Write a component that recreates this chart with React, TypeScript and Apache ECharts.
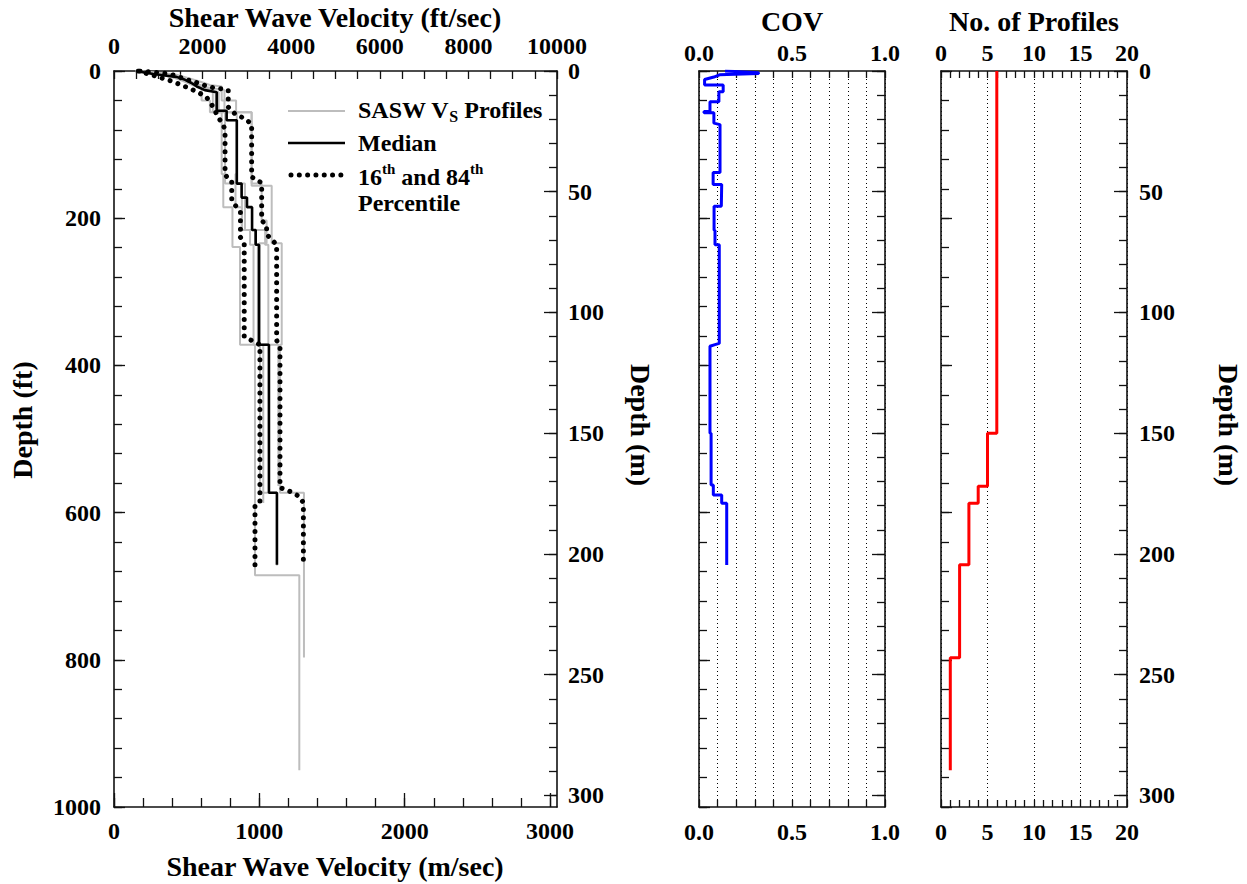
import React, { useEffect, useRef } from "react";
import * as echarts from "echarts";

// ---------------- Data ----------------
// Left panel points: [shear wave velocity (m/sec), depth (ft)]
const saswProfile1 = [[150,0],[230,2],[330,5],[420,9],[500,14],[560,18],[603,21],[603,40],[660,40],[660,56],[741,56],[741,140],[752,140],[752,185],[815,185],[815,239],[867,239],[867,372],[970,372],[970,685],[1275,685],[1275,950]];
const saswProfile2 = [[160,0],[290,2],[430,5],[520,10],[600,15],[660,19],[741,21],[741,40],[840,40],[840,56],[947,56],[947,156],[1085,156],[1085,234],[1154,234],[1154,372],[1142,372],[1142,573],[1307,573],[1307,797]];
const saswProfile3 = [[145,0],[220,2],[320,5],[410,9],[480,14],[540,19],[580,22],[700,29],[700,54],[775,54],[775,67],[845,67],[845,140],[836,140],[836,185],[880,185],[880,216],[936,216],[936,236],[960,236],[960,372],[1004,372],[1004,573],[1121,573],[1121,672]];
const saswProfile4 = [[150,0],[250,3],[380,7],[470,12],[540,16],[600,22],[680,24],[680,56],[845,56],[845,153],[901,153],[901,216],[1040,216],[1040,236],[1062,236],[1062,372],[1027,372],[1027,587]];
const saswProfile5 = [[155,0],[260,3],[390,7],[480,12],[550,16],[640,22],[760,26],[760,56],[947,56],[947,153],[1016,153],[1016,203],[1050,203],[1050,234],[1000,234],[1000,372],[1131,372],[1131,564]];
const saswProfile6 = [[150,0],[240,2],[350,6],[440,10],[510,15],[570,21],[640,25],[720,29],[720,54],[764,54],[764,153],[880,153],[880,216],[970,216],[970,236],[990,236],[990,372],[1066,372],[1066,492]];

const medianProfile = [[150,0],[210,2],[270,4],[350,6],[430,8],[490,12],[530,16],[570,21],[625,26],[707,29],[707,54],[775,54],[775,67],[845,67],[845,153],[878,153],[878,172],[915,172],[915,185],[950,185],[950,216],[975,216],[975,236],[998,236],[998,372],[1066,372],[1066,573],[1121,573],[1121,671]];
const percentile16 = [[167,0],[270,6],[400,14],[500,22],[580,29],[638,36],[683,49],[717,63],[741,70],[764,79],[764,140],[786,147],[810,150],[810,176],[844,185],[870,192],[870,226],[896,234],[896,361],[1004,372],[1004,586],[970,590],[970,671]];
const percentile84 = [[179,0],[300,2],[385,4],[488,11],[557,15],[660,22],[729,24],[786,26],[786,49],[832,58],[901,65],[947,72],[947,144],[1016,152],[1016,203],[1050,210],[1050,222],[1119,236],[1119,366],[1142,375],[1142,566],[1233,573],[1280,579],[1303,587],[1303,671]];

// COV vs depth: [COV, depth (m)]
const covProfile = [[0.14,0],[0.32,0.7],[0.32,1.0],[0.11,1.6],[0.08,2.5],[0.03,3.5],[0.03,5.8],[0.13,5.8],[0.13,8.6],[0.107,8.6],[0.107,12.7],[0.059,12.7],[0.059,16.8],[0.027,16.8],[0.027,17.3],[0.08,17.3],[0.08,21.6],[0.113,22.2],[0.113,42],[0.076,42],[0.076,47],[0.122,47],[0.12,56],[0.081,56],[0.081,66],[0.086,66],[0.086,72],[0.109,72],[0.109,112.8],[0.086,113.3],[0.059,114],[0.059,150],[0.065,150],[0.065,171.4],[0.077,171.4],[0.077,175.6],[0.122,175.6],[0.122,179],[0.149,179],[0.149,204.6]];

// Number of profiles vs depth: [count, depth (m)]
const profileCount = [[6,0],[6,150],[5,150],[5,172],[4,172],[4,179],[3,179],[3,204.5],[2,204.5],[2,243],[1,243],[1,289.6]];

// Tick labels
const velMsLabels = [0, 1000, 2000, 3000];
const velFtLabels = [0, 2000, 4000, 6000, 8000, 10000];
const depthFtLabels = [0, 200, 400, 600, 800, 1000];
const depthMLabels = [0, 50, 100, 150, 200, 250, 300];
const covLabels = [0, 0.5, 1];
const countLabels = [0, 5, 10, 15, 20];

// ---------------- Helpers ----------------
const FONT = "'Liberation Serif', 'Times New Roman', serif";
const AX = "#111";
const TICK_FONT = 24;
const TITLE_FONT = 28;
const LEGEND_FONT = 24;
const TOP_MARGIN = 6;

function steps(min: number, max: number, step: number) {
  const out: number[] = [];
  const n = Math.round((max - min) / step);
  for (let i = 0; i <= n; i++) out.push(Math.round((min + i * step) * 1e6) / 1e6);
  return out;
}

let measureCtx: CanvasRenderingContext2D | null = null;
function textWidth(text: string, size: number) {
  if (!measureCtx) measureCtx = document.createElement("canvas").getContext("2d");
  if (!measureCtx) return text.length * size * 0.5;
  measureCtx.font = `bold ${size}px ${FONT}`;
  return measureCtx.measureText(text).width;
}

type AxOpt = {
  grid: number; pos: string; min: number; max: number; inverse?: boolean;
  line?: boolean; ticks?: number[]; tickLen?: number; labels?: number[];
  fmt?: (v: number) => string; margin?: number; split?: number; splitDash?: number[];
};

function mkAxis(o: AxOpt) {
  const a: any = {
    type: "value",
    gridIndex: o.grid,
    position: o.pos,
    min: o.min,
    max: o.max,
    inverse: !!o.inverse,
    axisLine: { show: !!o.line, onZero: false, lineStyle: { color: AX, width: 1.6 } },
    axisTick: o.ticks
      ? { show: true, inside: true, length: o.tickLen || 8, customValues: o.ticks, lineStyle: { color: AX, width: 1.3 } }
      : { show: false },
    axisLabel: o.labels
      ? {
          show: true, customValues: o.labels, formatter: o.fmt || ((v: number) => String(v)),
          margin: o.margin ?? 12, color: "#000", fontFamily: FONT, fontWeight: "bold", fontSize: TICK_FONT,
          showMinLabel: true, showMaxLabel: true,
        }
      : { show: false },
    splitLine: { show: false },
  };
  if (o.split) {
    a.interval = o.split;
    a.splitLine = { show: true, lineStyle: { color: "#000", width: 1, type: o.splitDash || [1, 3] } };
  }
  return a;
}

export default function App() {
  const ref = useRef<HTMLDivElement>(null);

  useEffect(() => {
    if (!ref.current) return;
    const chart = echarts.init(ref.current, undefined, { renderer: "svg" });

    const g0 = { left: 114, top: 71, width: 443, height: 736 };
    const g1 = { left: 699, top: 71, width: 186, height: 736 };
    const g2 = { left: 941, top: 71, width: 186, height: 736 };

    const FT_MAX = 1000;
    const M_MAX = 304.8;
    const MS_MAX = 3048;

    const xAxis = [
      // grid 0
      mkAxis({ grid: 0, pos: "bottom", min: 0, max: MS_MAX, line: true, ticks: velMsLabels, tickLen: 14, labels: velMsLabels, margin: 12 }), // 0
      mkAxis({ grid: 0, pos: "bottom", min: 0, max: MS_MAX, ticks: steps(0, 3000, 200), tickLen: 9 }), // 1
      mkAxis({ grid: 0, pos: "top", min: 0, max: 10000, line: true, ticks: steps(0, 10000, 500), tickLen: 8, labels: velFtLabels, margin: 13 }), // 2
      // grid 1
      mkAxis({ grid: 1, pos: "bottom", min: 0, max: 1, line: true, ticks: steps(0, 1, 0.1), tickLen: 7, labels: covLabels, fmt: (v) => v.toFixed(1), margin: 13 }), // 3
      mkAxis({ grid: 1, pos: "top", min: 0, max: 1, line: true, ticks: steps(0, 1, 0.1), tickLen: 7, labels: covLabels, fmt: (v) => v.toFixed(1), margin: TOP_MARGIN }), // 4
      mkAxis({ grid: 1, pos: "bottom", min: 0, max: 1, split: 0.1 }), // 5
      // grid 2
      mkAxis({ grid: 2, pos: "bottom", min: 0, max: 20, line: true, ticks: steps(0, 20, 1), tickLen: 7, labels: countLabels, margin: 13 }), // 6
      mkAxis({ grid: 2, pos: "top", min: 0, max: 20, line: true, ticks: steps(0, 20, 1), tickLen: 7, labels: countLabels, margin: TOP_MARGIN }), // 7
      mkAxis({ grid: 2, pos: "bottom", min: 0, max: 20, split: 5 }), // 8
    ];

    const yAxis = [
      // grid 0
      mkAxis({ grid: 0, pos: "left", min: 0, max: FT_MAX, inverse: true, line: true, ticks: depthFtLabels, tickLen: 11, labels: depthFtLabels, margin: 13 }), // 0
      mkAxis({ grid: 0, pos: "left", min: 0, max: FT_MAX, inverse: true, ticks: steps(0, 1000, 40), tickLen: 8 }), // 1
      mkAxis({ grid: 0, pos: "right", min: 0, max: M_MAX, inverse: true, line: true, ticks: depthMLabels, tickLen: 13, labels: depthMLabels, margin: 11 }), // 2
      mkAxis({ grid: 0, pos: "right", min: 0, max: M_MAX, inverse: true, ticks: steps(0, 300, 10), tickLen: 8 }), // 3
      // grid 1
      mkAxis({ grid: 1, pos: "left", min: 0, max: FT_MAX, inverse: true, line: true, ticks: depthFtLabels, tickLen: 11 }), // 4
      mkAxis({ grid: 1, pos: "left", min: 0, max: FT_MAX, inverse: true, ticks: steps(0, 1000, 40), tickLen: 8 }), // 5
      mkAxis({ grid: 1, pos: "right", min: 0, max: M_MAX, inverse: true, line: true, ticks: depthMLabels, tickLen: 13 }), // 6
      mkAxis({ grid: 1, pos: "right", min: 0, max: M_MAX, inverse: true, ticks: steps(0, 300, 10), tickLen: 8 }), // 7
      // grid 2
      mkAxis({ grid: 2, pos: "left", min: 0, max: FT_MAX, inverse: true, line: true, ticks: depthFtLabels, tickLen: 11 }), // 8
      mkAxis({ grid: 2, pos: "left", min: 0, max: FT_MAX, inverse: true, ticks: steps(0, 1000, 40), tickLen: 8 }), // 9
      mkAxis({ grid: 2, pos: "right", min: 0, max: M_MAX, inverse: true, line: true, ticks: depthMLabels, tickLen: 13, labels: depthMLabels, margin: 12 }), // 10
      mkAxis({ grid: 2, pos: "right", min: 0, max: M_MAX, inverse: true, ticks: steps(0, 300, 10), tickLen: 8 }), // 11
    ];

    const line = (name: string, data: number[][], xi: number, yi: number, ls: any, z = 2) => ({
      name, type: "line", data, xAxisIndex: xi, yAxisIndex: yi, showSymbol: false, symbol: "none",
      lineStyle: ls, z, silent: true, clip: true,
    });

    const gray = { color: "#bdbdbd", width: 2 };
    const dotted = { color: "#000", width: 5, type: [0.01, 8.3], cap: "round" };

    const series = [
      line("p1", saswProfile1, 0, 0, gray, 2),
      line("p2", saswProfile2, 0, 0, gray, 2),
      line("p3", saswProfile3, 0, 0, gray, 2),
      line("p4", saswProfile4, 0, 0, gray, 2),
      line("p5", saswProfile5, 0, 0, gray, 2),
      line("p6", saswProfile6, 0, 0, gray, 2),
      line("Median", medianProfile, 0, 0, { color: "#000", width: 2.6 }, 4),
      line("16th", percentile16, 0, 0, dotted, 3),
      line("84th", percentile84, 0, 0, dotted, 3),
      line("COV", covProfile, 3, 6, { color: "#0000ff", width: 3 }, 4),
      line("No. of Profiles", profileCount, 6, 10, { color: "#ff0000", width: 3 }, 4),
    ];

    const txt = (text: string, x: number, y: number, size: number, rotation = 0, align = "center") => ({
      type: "text", x, y, rotation, silent: true,
      style: {
        text, fill: "#000", font: `bold ${size}px ${FONT}`,
        fontFamily: FONT, fontWeight: "bold", fontSize: size,
        align, verticalAlign: "middle", textAlign: align, textVerticalAlign: "middle",
      },
    });

    // lay out a line of text with sub/superscript segments
    const segLine = (segs: { t: string; s: number; dy: number }[], x0: number, y: number) => {
      const out: any[] = [];
      let x = x0;
      for (const sg of segs) {
        out.push(txt(sg.t, x, y + sg.dy, sg.s, 0, "left"));
        x += textWidth(sg.t, sg.s);
      }
      return out;
    };

    const graphic = [
      txt("Shear Wave Velocity (ft/sec)", 335, 17, TITLE_FONT),
      txt("Shear Wave Velocity (m/sec)", 335, 866, TITLE_FONT),
      txt("COV", 792, 21, TITLE_FONT),
      txt("No. of Profiles", 1034, 21, TITLE_FONT),
      txt("Depth (ft)", 22, 420, TITLE_FONT, Math.PI / 2),
      txt("Depth (m)", 640, 425, TITLE_FONT, -Math.PI / 2),
      txt("Depth (m)", 1228, 425, TITLE_FONT, -Math.PI / 2),
      // legend
      { type: "line", silent: true, shape: { x1: 288, y1: 111, x2: 345, y2: 111 }, style: { stroke: "#bdbdbd", lineWidth: 2 } },
      { type: "line", silent: true, shape: { x1: 288, y1: 143, x2: 345, y2: 143 }, style: { stroke: "#000", lineWidth: 2.6 } },
      { type: "line", silent: true, shape: { x1: 291, y1: 175, x2: 345, y2: 175 }, style: { stroke: "#000", lineWidth: 5, lineDash: [0.01, 8.3], lineCap: "round" } },
      ...segLine([
        { t: "SASW V", s: LEGEND_FONT, dy: 0 },
        { t: "S", s: 16, dy: 6 },
        { t: " Profiles", s: LEGEND_FONT, dy: 0 },
      ], 358, 110),
      txt("Median", 358, 143, LEGEND_FONT, 0, "left"),
      ...segLine([
        { t: "16", s: LEGEND_FONT, dy: 0 },
        { t: "th", s: 15, dy: -8 },
        { t: " and 84", s: LEGEND_FONT, dy: 0 },
        { t: "th", s: 15, dy: -8 },
      ], 358, 177),
      txt("Percentile", 358, 203, LEGEND_FONT, 0, "left"),
    ];

    chart.setOption({
      animation: false,
      backgroundColor: "#fff",
      grid: [g0, g1, g2],
      xAxis,
      yAxis,
      series,
      graphic: { elements: graphic },
    });

    return () => chart.dispose();
  }, []);

  return (
    <div
      ref={ref}
      style={{ position: "fixed", left: 0, top: 0, width: 1247, height: 884, background: "#fff" }}
    />
  );
}
